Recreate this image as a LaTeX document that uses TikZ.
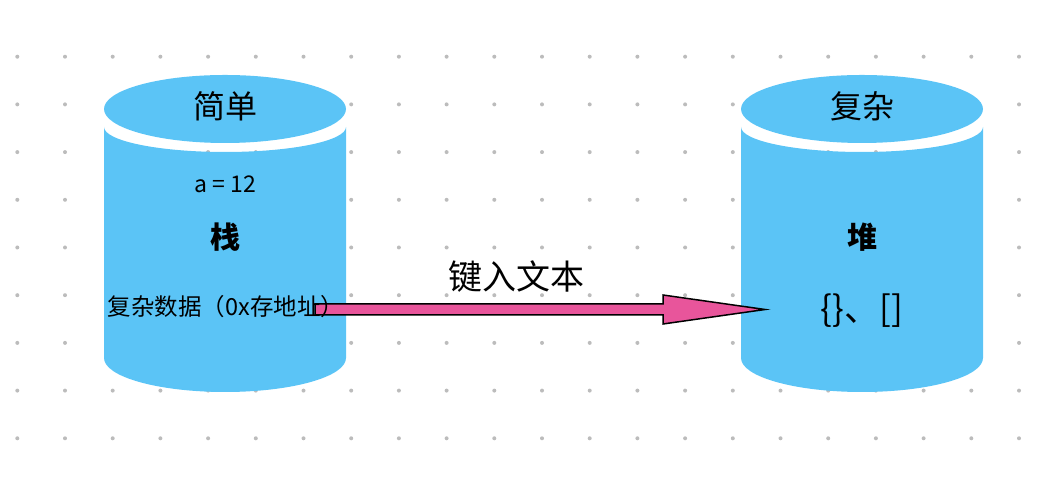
\documentclass[tikz,border=0pt]{standalone}
\usepackage{fontspec}
\setmainfont{Noto Sans CJK SC}
\usetikzlibrary{calc}
\definecolor{drumblue}{RGB}{91,196,246}
\definecolor{flowpink}{RGB}{232,85,155}
\definecolor{gridgray}{RGB}{188,188,188}
\tikzset{
  bigtxt/.style={font=\fontsize{32}{38}\selectfont, inner sep=0pt},
  midtxt/.style={font=\fontsize{23}{27}\selectfont, inner sep=0pt},
  boldtxt/.style={font=\fontsize{30}{36}\selectfont\bfseries, inner sep=0pt},
}
\begin{document}
\begin{tikzpicture}[x=1pt,y=1pt]
	\useasboundingbox (0,0) rectangle (1040,478);
	% dot grid 22 x 9
	\foreach \i in {0,...,21}
		\foreach \j in {0,...,8}
			\fill[gridgray] (17.3+47.7*\i, 421.3-47.7*\j) circle (2pt);
	% two drums: left 225, right 862 (rx 121)
	\foreach \cx in {225,862} {
		% body, top edge flatter and lower than the lid
		\fill[drumblue] (\cx-121,351) -- (\cx-121,120) arc[start angle=180, end angle=360, x radius=121, y radius=34] -- (\cx+121,351) arc[start angle=0, end angle=-180, x radius=121, y radius=25] -- cycle;
		% lid
		\fill[drumblue] (\cx,369) ellipse[x radius=121, y radius=34];
	}
	% arrow 315 -> 765
	\coordinate (flowtail) at (315,168.5);
	\coordinate (flowtip) at (765,168.5);
	\draw[black, line width=1.5pt, fill=flowpink] ($(flowtail)+(0,5.5)$) -- ($(flowtip)+(-102,5.5)$) -- ++(0,9) -- (flowtip) -- ($(flowtip)+(-102,-14.5)$) -- ++(0,9) -- ($(flowtail)+(0,-5.5)$) -- cycle;
	\node[bigtxt, font=\fontsize{34}{40}\selectfont] (flowlbl) at (516,201) {键入文本};
	% left drum texts
	\node[bigtxt] (stacktop) at (225,372) {简单};
	\node[midtxt] (stackval) at (225,294) {a = 12};
	\node[boldtxt] (stacklbl) at (225,241) {栈};
	\node[midtxt, font=\fontsize{23.5}{28}\selectfont] (stackref) at (226,171) {复杂数据（0x存地址）};
	% right drum texts
	\node[bigtxt] (heaptop) at (862,372) {复杂};
	\node[boldtxt] (heaplbl) at (862,241) {堆};
	\node[bigtxt, font=\fontsize{35}{40}\selectfont] (heapval) at (862,167) {\{\}、[]};
\end{tikzpicture}
\end{document}
